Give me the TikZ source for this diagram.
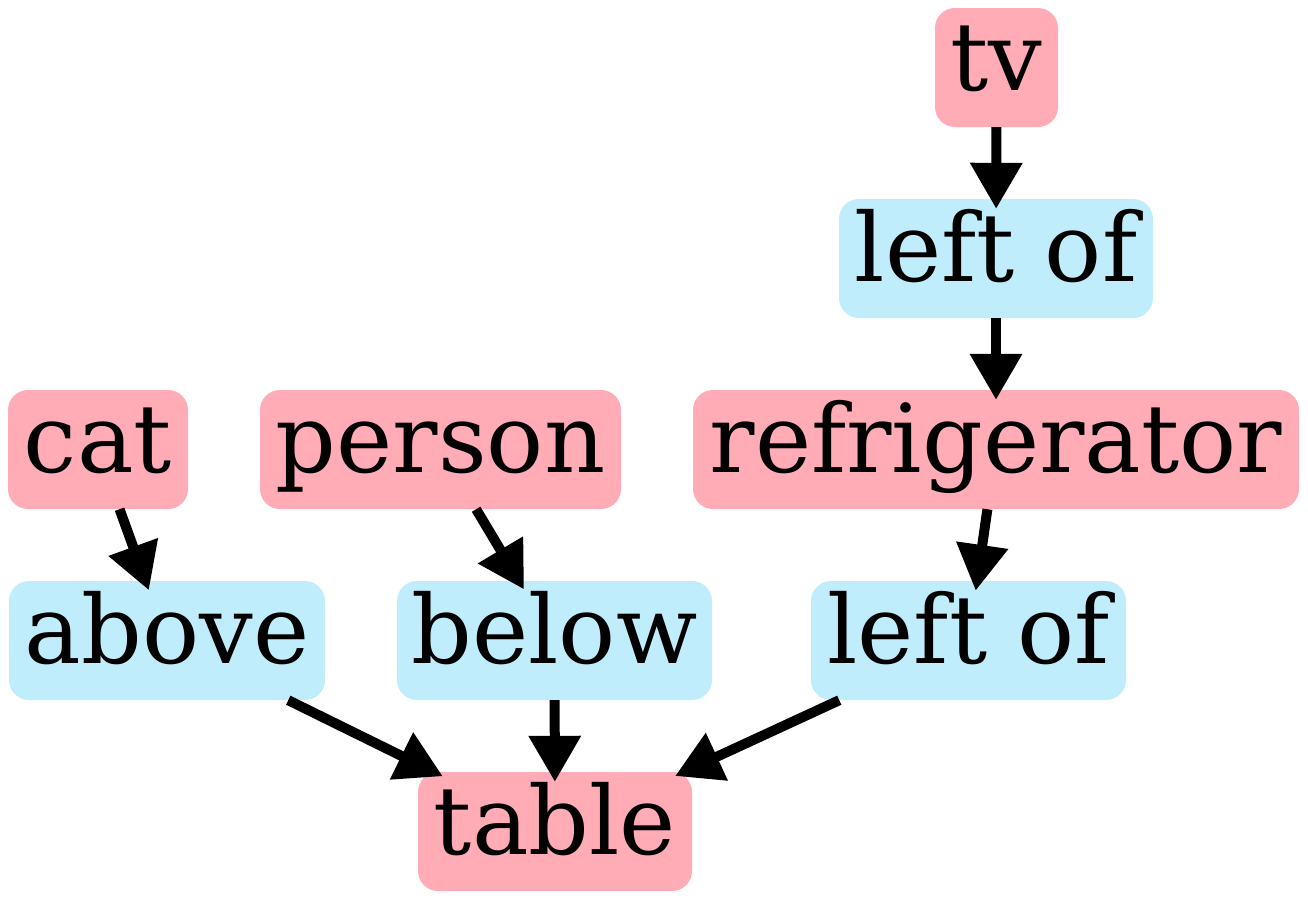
\documentclass[tikz,border=0pt]{standalone}
\usepackage{fontspec}
\setmainfont{DejaVu Serif}
\usetikzlibrary{arrows.meta}
\definecolor{objpink}{HTML}{FFACB7}
\definecolor{relblue}{HTML}{BFEDFC}
\begin{document}
\begin{tikzpicture}[x=1pt,y=-1pt,
  base/.style={rounded corners=20pt, inner sep=0pt, minimum height=119pt,
    text height=71pt, text depth=25pt, font=\fontsize{95}{95}\selectfont},
  obj/.style={base, fill=objpink},
  rel/.style={base, fill=relblue},
  edge/.style={line width=10pt, -{Triangle[length=46pt,width=50pt]}, shorten >=-10pt}]
\useasboundingbox (0,0) rectangle (1308,900);
\node[obj, minimum width=123pt] (tv) at (996.5,67.5) {tv};
\node[rel, minimum width=314pt] (lo1) at (996,258.5) {left of};
\node[obj, minimum width=180pt] (cat) at (98,449.5) {cat};
\node[obj, minimum width=361pt] (person) at (440.5,449.5) {person};
\node[obj, minimum width=606pt] (fridge) at (996,449.5) {refrigerator};
\node[rel, minimum width=316pt] (above) at (167,640.5) {above};
\node[rel, minimum width=315pt] (below) at (554.5,640.5) {below};
\node[rel, minimum width=315pt] (lo2) at (968.5,640.5) {left of};
\node[obj, minimum width=274pt] (table) at (555,831.5) {table};
\draw[edge] (tv) -- (lo1);
\draw[edge] (lo1) -- (fridge);
\draw[edge] (cat) -- (above);
\draw[edge] (person) -- (below);
\draw[edge] (fridge) -- (lo2);
\draw[edge] (above) -- (table);
\draw[edge] (below) -- (table);
\draw[edge] (lo2) -- (table);
\end{tikzpicture}
\end{document}
